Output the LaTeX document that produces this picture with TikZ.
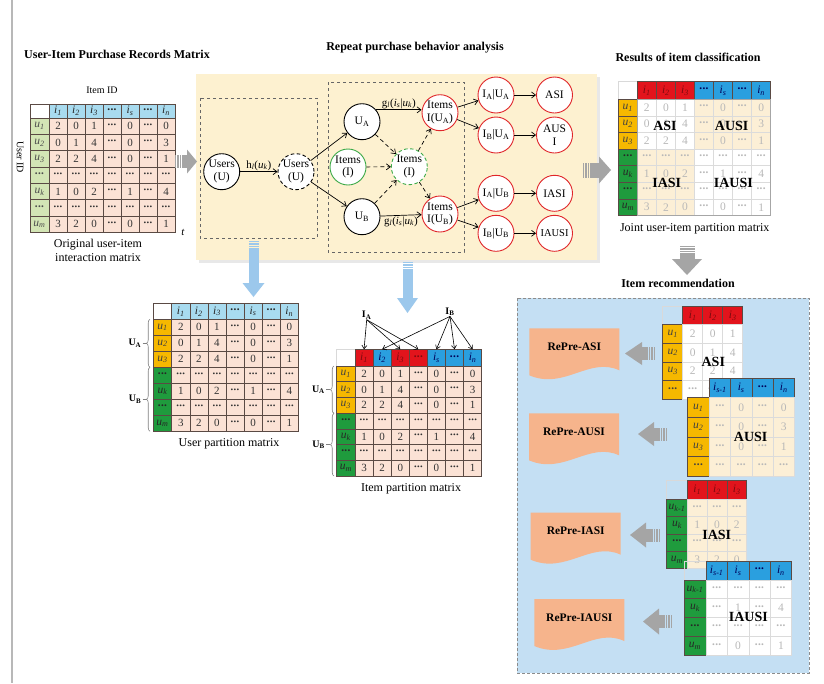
\documentclass[tikz,border=0pt]{standalone}
\usepackage{fontspec}
\setmainfont{Liberation Serif}
\usetikzlibrary{arrows.meta,decorations.pathreplacing}

\definecolor{hdrlight}{HTML}{A8DBEF}
\definecolor{lblgreen}{HTML}{D3E5B5}
\definecolor{peach}{HTML}{FBE2D5}
\definecolor{gold}{HTML}{F6B800}
\definecolor{dkgreen}{HTML}{1F9B3D}
\definecolor{hdrred}{HTML}{E2141C}
\definecolor{hdrblue}{HTML}{2A9FDF}
\definecolor{beige}{HTML}{FCEFD6}
\definecolor{panelyellow}{HTML}{FDF1D0}
\definecolor{panelblue}{HTML}{C4DFF3}
\definecolor{docsalmon}{HTML}{F6B48C}
\definecolor{arrowgray}{HTML}{A5A5A5}
\definecolor{arrowblue}{HTML}{9CC8EC}
\definecolor{circred}{HTML}{E0262A}
\definecolor{circgreen}{HTML}{3DAA48}
\definecolor{gridline}{HTML}{5A4A44}

\newcommand\ix[2]{\textit{#1}\textsubscript{\textit{#2}}}
\newcommand\dts{\textbf{\textperiodcentered\kern-0.06em\textperiodcentered\kern-0.06em\textperiodcentered}}
\newcommand\mname{m}

% matrix: #1 left x, #2 top y, #3 label column width, #4 cell width,
% #5 header height, #6 row height, #7 header cells, #8 row labels, #9 data rows
\newcommand\mgrid[9]{%
  \foreach \hdS/\hdT [count=\colN] in {#7}{%
    \node[mcell,\hdS,minimum width=#4pt,minimum height=#5pt]
      (\mname-h\colN) at ({#1+#3+(\colN-1)*#4},{#2}) {\hdT};
  }%
  \foreach \lbS/\lbT [count=\rowN] in {#8}{%
    \node[mcell,\lbS,minimum width=#3pt,minimum height=#6pt]
      (\mname-r\rowN) at ({#1},{#2+#5+(\rowN-1)*#6}) {\lbT};
  }%
  \foreach \rowL [count=\rowN] in {#9}{%
    \foreach \val [count=\colN] in \rowL {%
      \node[mcell,mdata,minimum width=#4pt,minimum height=#6pt]
        (\mname-\rowN-\colN) at ({#1+#3+(\colN-1)*#4},{#2+#5+(\rowN-1)*#6}) {\val};
    }%
  }%
}

% block arrow: #1 colour, #2 tail point, #3 angle, #4 length,
% #5 shaft width, #6 head width, #7 head length
\newcommand\blockarrow[7]{%
  \begin{scope}[shift={#2},rotate=#3]
    \foreach \s in {0,2.4,4.8} \fill[#1] (\s,{-#5/2}) rectangle ++(1.3,#5);
    \fill[#1] (7.2,{-#5/2}) rectangle ({#4-#7+0.3},{#5/2});
    \fill[#1] ({#4-#7},{-#6/2}) -- (#4,0) -- ({#4-#7},{#6/2}) -- cycle;
  \end{scope}
}

% wavy-bottom document shape: #1 name, #2 left x, #3 top y, #4 text
\newcommand\docshape[4]{%
  \fill[docsalmon] (#2,#3) -- ({#2+90},#3) -- ({#2+90},{#3+42})
    .. controls ({#2+60},{#3+28}) and ({#2+35},{#3+62}) .. (#2,{#3+47}) -- cycle;
  \node[font=\bfseries\fontsize{11.5}{13}\selectfont] (#1) at ({#2+45},{#3+18.5}) {#4};
}

\begin{document}
\begin{tikzpicture}[x=1pt,y=-1pt,
  mcell/.style={anchor=north west,inner sep=0pt,outer sep=0pt,draw=gridline,line width=0.55pt,font=\fontsize{11}{12}\selectfont},
  mdata/.style={},
  hL/.style={fill=hdrlight,text=black!85,font=\fontsize{11.5}{12}\selectfont},
  hR/.style={fill=hdrred,text=hdrred!55!black,font=\fontsize{11.5}{12}\selectfont},
  hB/.style={fill=hdrblue,text=blue!35!black,font=\fontsize{11.5}{12}\selectfont},
  lG/.style={fill=lblgreen,text=black!70,font=\fontsize{11.5}{12}\selectfont},
  lO/.style={fill=gold,text=black!75,font=\fontsize{11.5}{12}\selectfont},
  lK/.style={fill=dkgreen,text=black!85,font=\fontsize{11.5}{12}\selectfont},
  blank/.style={anchor=north west,inner sep=0pt,outer sep=0pt,draw=black!15,line width=0.5pt},
  title/.style={font=\bfseries\fontsize{12}{14}\selectfont},
  caption/.style={font=\fontsize{12}{14}\selectfont,align=center},
  circ/.style={circle,draw=black,line width=0.9pt,fill=white,minimum size=36pt,inner sep=0pt,align=center,font=\fontsize{11.5}{12.5}\selectfont},
  cred/.style={circ,draw=circred},
  cgreen/.style={circ,draw=circgreen},
  dsh/.style={dash pattern=on 3.5pt off 2.5pt},
  flow/.style={-{Straight Barb[length=4pt,width=6pt]},line width=0.7pt},
  flowd/.style={flow,dash pattern=on 4pt off 3pt},
  elabel/.style={font=\fontsize{11}{13}\selectfont,inner sep=1pt},
  bigl/.style={font=\bfseries\fontsize{14}{16}\selectfont},
  brc/.style={decorate,decoration={brace,amplitude=3.5pt},draw=black!50,line width=0.6pt},
  blab/.style={font=\bfseries\fontsize{10}{12}\selectfont,inner sep=0.5pt},
]
\useasboundingbox (0,0) rectangle (824,683);
\fill[white] (0,0) rectangle (824,683);
\draw[black!28,line width=1.6pt] (12,0) -- (12,683);

% ---------- titles ----------
\node[title] (t1) at (117,54) {User-Item Purchase Records Matrix};
\node[title] (t2) at (415,48) {Repeat purchase behavior analysis};
\node[title] (t3) at (688,57) {Results of item classification};
\node[title] (t4) at (678,283) {Item recommendation};

% ---------- original matrix ----------
\node[font=\fontsize{10}{12}\selectfont] (itemid) at (102,90) {Item ID};
\node[font=\fontsize{10}{12}\selectfont,rotate=-90] (userid) at (20,157) {User ID};
\renewcommand\mname{mo}
\begin{scope}[mdata/.style={fill=peach,text=black!80}]
\node[mcell,fill=white,minimum width=19pt,minimum height=14pt] (mo-c) at (30,104) {};
\mgrid{30}{104}{19}{18}{14}{16.35}
  {hL/\ix i1,hL/\ix i2,hL/\ix i3,hL/\dts,hL/\ix is,hL/\dts,hL/\ix in}
  {lG/\ix u1,lG/\ix u2,lG/\ix u3,lG/\dts,lG/\ix uk,lG/\dts,lG/\ix um}
  {{2,0,1,\dts,0,\dts,0},{0,1,4,\dts,0,\dts,3},{2,2,4,\dts,0,\dts,1},{\dts,\dts,\dts,\dts,\dts,\dts,\dts},{1,0,2,\dts,1,\dts,4},{\dts,\dts,\dts,\dts,\dts,\dts,\dts},{3,2,0,\dts,0,\dts,1}}
\end{scope}
\node[font=\itshape\fontsize{11}{13}\selectfont] (tt) at (183,232) {t};
\node[caption] (cap1) at (98,250) {Original user-item\\interaction matrix};

% ---------- analysis panel ----------
\fill[black!9] (199,77) rectangle (600,263);
\fill[panelyellow] (196,74) rectangle (597,260);
\draw[black!60,dashed,line width=0.6pt] (200,98) rectangle (317,238);
\draw[black!60,dashed,line width=0.6pt] (328,82) rectangle (464,252);

\node[circ] (users) at (221.7,171.7) {Users\\(U)};
\node[circ,dsh] (usersd) at (296,171.7) {Users\\(U)};
\node[circ] (ua) at (362,121.7) {U\textsubscript{A}};
\node[circ] (ub) at (362,216.7) {U\textsubscript{B}};
\node[cgreen] (items) at (348,167) {Items\\(I)};
\node[cgreen,dsh] (itemsd) at (409.3,166.7) {Items\\(I)};
\node[cred] (iua) at (440,112.7) {Items\\I(U\textsubscript{A})};
\node[cred] (iub) at (440,214) {Items\\I(U\textsubscript{B})};
\node[cred] (aa) at (496,95) {I\textsubscript{A}|U\textsubscript{A}};
\node[cred] (ba) at (496,135) {I\textsubscript{B}|U\textsubscript{A}};
\node[cred] (ab) at (496,193.3) {I\textsubscript{A}|U\textsubscript{B}};
\node[cred] (bb) at (496,233.3) {I\textsubscript{B}|U\textsubscript{B}};
\node[cred] (asi) at (554.5,95) {ASI};
\node[cred] (ausi) at (554.5,135) {AUS\\I};
\node[cred] (iasi) at (554.5,193.3) {IASI};
\node[cred,font=\fontsize{10.5}{12}\selectfont] (iausi) at (554.5,233.3) {IAUSI};

\draw[flow] (users) -- node[elabel,above] {h\textsubscript{\textit{l}}(\ix uk)} (usersd);
\draw[flow] (usersd) -- (ua);
\draw[flow] (usersd) -- (ub);
\draw[flow] (ua.40) -- node[elabel,above] {g\textsubscript{\textit{l}}(\ix is|\ix uk)} (ua.40 -| iua.west);
\draw[flow] (ub) -- node[elabel,below] {g\textsubscript{\textit{l}}(\ix is|\ix uk)} (iub);
\draw[flowd] (ua) -- (itemsd);
\draw[flowd] (items) -- (itemsd);
\draw[flowd] (ub) -- (itemsd);
\draw[flowd] (itemsd) -- (iua);
\draw[flowd] (itemsd) -- (iub);
\draw[flow] (iua) -- (aa);
\draw[flow] (iua) -- (ba);
\draw[flow] (iub) -- (ab);
\draw[flow] (iub) -- (bb);
\draw[flow] (aa) -- (asi);
\draw[flow] (ba) -- (ausi);
\draw[flow] (ab) -- (iasi);
\draw[flow] (bb) -- (iausi);

% ---------- big arrows ----------
\blockarrow{arrowgray}{(175,161.5)}{0}{22}{13}{24}{10}
\blockarrow{arrowgray}{(583,170)}{0}{28}{15}{27}{12}
\blockarrow{arrowgray}{(687,246)}{-90}{29}{15}{30}{16}
\blockarrow{arrowblue}{(253.5,241)}{-90}{56}{10}{22}{14}
\blockarrow{arrowblue}{(407.5,262)}{-90}{51}{10}{21}{15}

% ---------- user partition matrix ----------
\renewcommand\mname{mu}
\begin{scope}[mdata/.style={fill=peach,text=black!80}]
\node[mcell,fill=white,minimum width=18.4pt,minimum height=16pt] (mu-c) at (153.3,303.3) {};
\mgrid{153.3}{303.3}{18.4}{18.1}{16}{16}
  {hL/\ix i1,hL/\ix i2,hL/\ix i3,hL/\dts,hL/\ix is,hL/\dts,hL/\ix in}
  {lO/\ix u1,lO/\ix u2,lO/\ix u3,lK/\dts,lK/\ix uk,lK/\dts,lK/\ix um}
  {{2,0,1,\dts,0,\dts,0},{0,1,4,\dts,0,\dts,3},{2,2,4,\dts,0,\dts,1},{\dts,\dts,\dts,\dts,\dts,\dts,\dts},{1,0,2,\dts,1,\dts,4},{\dts,\dts,\dts,\dts,\dts,\dts,\dts},{3,2,0,\dts,0,\dts,1}}
\end{scope}
\draw[brc] (150,367.3) -- (150,319.3);
\draw[brc] (150,431.3) -- (150,367.3);
\node[blab,anchor=east] (muA) at (142,343.3) {U\textsubscript{A}};
\node[blab,anchor=east] (muB) at (142,399.3) {U\textsubscript{B}};
\draw[black!50,line width=0.6pt] (muA.east) ++(0.5,0) -- ++(4,0);
\draw[black!50,line width=0.6pt] (muB.east) ++(0.5,0) -- ++(4,0);
\node[caption] (cap2) at (229,444) {User partition matrix};

% ---------- item partition matrix ----------
\renewcommand\mname{mi}
\begin{scope}[mdata/.style={fill=peach,text=black!80}]
\node[mcell,fill=white,draw=black!15,minimum width=18.3pt,minimum height=16.7pt] (mi-c) at (336.7,349.3) {};
\mgrid{336.7}{349.3}{18.3}{18.1}{16.7}{15.7}
  {hR/\ix i1,hB/\ix i2,hR/\ix i3,hR/\dts,hB/\ix is,hB/\dts,hB/\ix in}
  {lO/\ix u1,lO/\ix u2,lO/\ix u3,lK/\dts,lK/\ix uk,lK/\dts,lK/\ix um}
  {{2,0,1,\dts,0,\dts,0},{0,1,4,\dts,0,\dts,3},{2,2,4,\dts,0,\dts,1},{\dts,\dts,\dts,\dts,\dts,\dts,\dts},{1,0,2,\dts,1,\dts,4},{\dts,\dts,\dts,\dts,\dts,\dts,\dts},{3,2,0,\dts,0,\dts,1}}
\end{scope}
\draw[brc] (334,413.4) -- (334,366);
\draw[brc] (334,476) -- (334,413.4);
\node[blab,anchor=east] (miA) at (325.5,389.7) {U\textsubscript{A}};
\node[blab,anchor=east] (miB) at (325.5,444.7) {U\textsubscript{B}};
\draw[black!50,line width=0.6pt] (miA.east) ++(0.5,0) -- ++(4,0);
\draw[black!50,line width=0.6pt] (miB.east) ++(0.5,0) -- ++(4,0);
\node[blab] (IA) at (366.7,315) {I\textsubscript{A}};
\node[blab] (IB) at (450,311.7) {I\textsubscript{B}};
\foreach \k in {1,3,4} \draw[-{Straight Barb[length=3.5pt,width=5pt]},line width=0.6pt] (IA.south) -- (mi-h\k.north);
\foreach \k in {2,5,6,7} \draw[-{Straight Barb[length=3.5pt,width=5pt]},line width=0.6pt] (IB.south) -- (mi-h\k.north);
\node[caption] (cap3) at (411,489) {Item partition matrix};

% ---------- joint partition matrix ----------
\fill[beige] (694.45,99.3) rectangle (770.65,149.1);
\fill[beige] (637.3,149.1) rectangle (694.45,215.5);
\renewcommand\mname{mj}
\begin{scope}[mdata/.style={draw=black!14,text=black!28,font=\fontsize{11.5}{12}\selectfont}]
\node[mcell,fill=white,draw=black!15,minimum width=19pt,minimum height=17.6pt] (mj-c) at (618.3,81.7) {};
\mgrid{618.3}{81.7}{19}{19.05}{17.6}{16.6}
  {hR/\ix i1,hR/\ix i2,hR/\ix i3,hB/\dts,hB/\ix is,hB/\dts,hB/\ix in}
  {lO/\ix u1,lO/\ix u2,lO/\ix u3,lK/\dts,lK/\ix uk,lK/\dts,lK/\ix um}
  {{2,0,1,\dts,0,\dts,0},{0,1,4,\dts,0,\dts,3},{2,2,4,\dts,0,\dts,1},{\dts,\dts,\dts,\dts,\dts,\dts,\dts},{1,0,2,\dts,1,\dts,4},{\dts,\dts,\dts,\dts,\dts,\dts,\dts},{3,2,0,\dts,0,\dts,1}}
\end{scope}
\draw[black!35,line width=0.5pt] (637.3,99.3) rectangle (770.65,215.5);
\node[bigl] (jASI) at (665,126) {ASI};
\node[bigl] (jAUSI) at (731.7,126) {AUSI};
\node[bigl] (jIASI) at (666.7,183.3) {IASI};
\node[bigl] (jIAUSI) at (733.3,183.3) {IAUSI};
\node[caption] (cap4) at (694.7,228.5) {Joint user-item partition matrix};

% ---------- recommendation panel ----------
\filldraw[fill=panelblue,draw=black!45,line width=0.7pt,dash pattern=on 3pt off 2pt] (517,298) rectangle (809,673);

\docshape{dA}{529.3}{328.3}{RePre-ASI}
\docshape{dB}{529}{413.3}{RePre-AUSI}
\docshape{dC}{530.7}{512.7}{RePre-IASI}
\docshape{dD}{534.3}{599}{RePre-IAUSI}

\blockarrow{arrowgray}{(655,353.5)}{180}{30}{13}{23}{17}
\blockarrow{arrowgray}{(667,434)}{180}{29}{13}{24}{16}
\blockarrow{arrowgray}{(660,535)}{180}{30}{13}{25}{16}
\blockarrow{arrowgray}{(672,621.5)}{180}{29}{13}{26}{16}

\renewcommand\mname{sa}
\begin{scope}[mcell/.append style={font=\fontsize{11.5}{12}\selectfont},mdata/.style={fill=white,draw=black!14,text=black!28}]
\node[blank,minimum width=20pt,minimum height=17.6pt] (sa-c) at (662.7,306.7) {};
\mgrid{662.7}{306.7}{20}{20}{17.6}{18.75}
  {hR/\ix i1,hR/\ix i2,hR/\ix i3}
  {lO/\ix u1,lO/\ix u2,lO/\ix u3,lO/\dts}
  {{2,0,1},{0,1,4},{2,2,4},{\dts,\dts,\dts}}
\end{scope}
\node[bigl] (sASI) at (713.3,361.7) {ASI};

\renewcommand\mname{sb}
\begin{scope}[mcell/.append style={font=\fontsize{11.5}{12}\selectfont},mdata/.style={fill=beige,draw=black!14,text=black!28}]
\mgrid{687.3}{378.3}{22}{21.25}{19.4}{19.6}
  {hB/\ix i{s-1},hB/\ix is,hB/\dts,hB/\ix in}
  {lO/\ix u1,lO/\ix u2,lO/\ix u3,lO/\dts}
  {{\dts,0,\dts,0},{\dts,0,\dts,3},{\dts,0,\dts,1},{\dts,\dts,\dts,\dts}}
\end{scope}
\node[bigl] (sAUSI) at (750.7,436.7) {AUSI};

\renewcommand\mname{sc}
\begin{scope}[mcell/.append style={font=\fontsize{11.5}{12}\selectfont},mdata/.style={fill=beige,draw=black!14,text=black!28}]
\node[blank,minimum width=20.6pt,minimum height=18.3pt] (sc-c) at (666.7,480.7) {};
\mgrid{666.7}{480.7}{20.6}{19.8}{18.3}{17.4}
  {hR/\ix i1,hR/\ix i2,hR/\ix i3}
  {lK/\ix u{k-1},lK/\ix uk,lK/\dts,lK/\ix um}
  {{\dts,\dts,\dts},{1,0,2},{\dts,\dts,\dts},{3,2,0}}
\end{scope}
\node[bigl] (sIASI) at (716.7,535) {IASI};

\renewcommand\mname{sd}
\begin{scope}[mcell/.append style={font=\fontsize{11.5}{12}\selectfont},mdata/.style={fill=white,draw=black!14,text=black!28}]
\node[blank,minimum width=22pt,minimum height=19pt] (sd-c) at (684,561) {};
\mgrid{684}{561}{22}{21.4}{19}{18.75}
  {hB/\ix i{s-1},hB/\ix is,hB/\dts,hB/\ix in}
  {lK/\ix u{k-1},lK/\ix uk,lK/\dts,lK/\ix um}
  {{\dts,\dts,\dts,\dts},{\dts,1,\dts,4},{\dts,\dts,\dts,\dts},{\dts,0,\dts,1}}
\end{scope}
\node[bigl] (sIAUSI) at (748.3,616.7) {IAUSI};

\end{tikzpicture}
\end{document}
